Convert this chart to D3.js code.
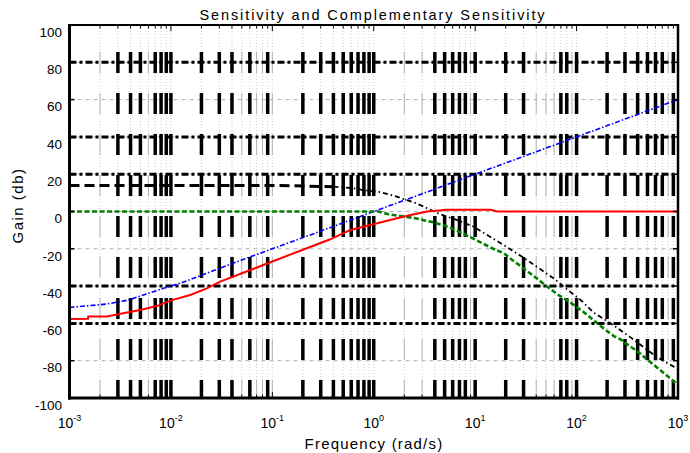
<!DOCTYPE html>
<html><head><meta charset="utf-8">
<script src="https://cdn.jsdelivr.net/npm/d3@7"></script>
<style>
html,body{margin:0;padding:0;background:#fff;overflow:hidden}
svg{display:block;font-family:"Liberation Sans",Arial,Helvetica,sans-serif}
</style></head><body>
<svg id="chart" width="690" height="453"></svg>
<script>
// ---------- data ----------
const titleText = "Sensitivity and Complementary Sensitivity";
const xLabelText = "Frequency (rad/s)";
const yLabelText = "Gain (db)";
const yTickValues = [-100, -80, -60, -40, -20, 0, 20, 40, 60, 80, 100];
const xDecades = [1e-3, 1e-2, 1e-1, 1e0, 1e1, 1e2, 1e3];
const xTickExponents = ["-3", "-2", "-1", "0", "1", "2", "3"];
const blackDashDotLevels = [80, 40, 20, -40, -60];
const heavyGridFreqs = [3e-3, 4e-3, 5e-3, 7e-3, 8e-3, 9e-3, 1e-2,
  2e-2, 3e-2, 4e-2, 6e-2, 9e-2,
  2e-1, 3e-1, 4e-1, 5e-1, 6e-1, 7e-1, 8e-1, 9e-1, 1,
  4, 5, 6, 7, 8, 10,
  20, 30, 70, 80, 100,
  200, 300, 400, 500, 600, 700, 900];

// blue: loop-shape line (freq rad/s, dB)
const blueFreq = [1e-3, 2e-3, 2.33e-3, 3.8e-3, 5.35e-3, 8.43e-3, 1.23e-2, 2e-2, 5e-2, 1e-1, 3e-1, 1, 3, 10, 100, 1000];
const blueDb   = [-51.4, -50, -49.6, -47.5, -44.8, -41.2, -38.5, -34.2, -26, -20, -10.5, 0, 9.5, 20, 40, 60];

// red: sensitivity S
const redFreq = [1e-3, 1.52e-3, 1.53e-3, 2.34e-3, 3.8e-3, 4.97e-3, 7.26e-3, 9.83e-3, 1.55e-2, 2.26e-2, 3.06e-2, 6e-2, 0.1, 0.2, 0.373, 0.588, 0.925, 1.7, 2.3, 3.36, 5.29, 14.2, 16.5, 1000];
const redDb   = [-57.7, -57.5, -56.3, -56.3, -54, -52.8, -50.7, -47.8, -44.8, -41.2, -37.6, -31.5, -26.8, -20.5, -14.9, -9.9, -7.2, -3.6, -1.9, 0, 0.9, 0.9, 0, 0];

// green: complementary sensitivity T
const greenFreq = [1e-3, 1.11, 1.4, 2.58, 3.23, 3.87, 5.09, 6.4, 9.0, 14.7, 19.2, 23.2, 29.1, 64.6, 87.4, 118, 193, 233, 272, 305, 368, 429, 480, 785, 1000];
const greenDb   = [0, 0, -1.5, -3.6, -4.9, -5.8, -7.8, -9.9, -13.8, -19.7, -22.4, -26, -29.9, -44.4, -48.9, -54, -63.5, -66.8, -68.6, -70.7, -73.7, -76.4, -78.7, -88.2, -93];

// black: bound curve
const boundFreq = [1e-3, 0.1, 0.4, 0.63, 0.79, 1.16, 1.63, 2.6, 4.55, 6.64, 9.68, 19.1, 29.1, 59.7, 75, 110, 148, 217, 341, 626, 1000];
const boundDb   = [14, 14, 13.3, 12.5, 11.5, 10.4, 8.2, 4.5, -1.5, -4.6, -8.2, -18, -24.3, -35.9, -40.4, -47.5, -54.3, -60, -67.5, -78.2, -84.5];

// ---------- layout ----------
const plot = {left: 69.5, right: 678, top: 25, bottom: 398};
const svg = d3.select("#chart");
const x = d3.scaleLog().domain([1e-3, 1e3]).range([plot.left, plot.right]);
const y = d3.scaleLinear().domain([-100, 100]).range([plot.bottom, plot.top]);

const minorFreqs = [];
for (let e = -3; e < 3; e++) for (let m = 1; m < 10; m++) minorFreqs.push(m * Math.pow(10, e));
minorFreqs.push(1000);
const isHeavy = f => heavyGridFreqs.some(h => Math.abs(Math.log10(h) - Math.log10(f)) < 1e-6);

const g = svg.append("g");
const barTop = y(100) + 22;           // vertical dash pattern starts below the top frame
const barPattern = "21 20", barOffset = -5;

// dotted light grid at every minor position
g.selectAll("line.dot").data(minorFreqs.filter(f => f > 1e-3 && f < 1e3)).join("line")
  .attr("x1", d => x(d)).attr("x2", d => x(d))
  .attr("y1", y(100)).attr("y2", y(-100))
  .attr("stroke", "#cfcfcf").attr("stroke-width", 1).attr("stroke-dasharray", "1 2");

// thin gray dashed vertical at non-heavy
g.selectAll("line.thin").data(minorFreqs.filter(f => f > 1e-3 && f < 1e3 && !isHeavy(f))).join("line")
  .attr("x1", d => x(d)).attr("x2", d => x(d))
  .attr("y1", barTop).attr("y2", y(-100))
  .attr("stroke", "#b4b4b4").attr("stroke-width", 1)
  .attr("stroke-dasharray", barPattern).attr("stroke-dashoffset", barOffset);

// horizontal gray grid
g.selectAll("line.hgrid").data(yTickValues.filter(v => v > -100 && v < 100)).join("line")
  .attr("x1", plot.left).attr("x2", plot.right)
  .attr("y1", d => y(d)).attr("y2", d => y(d))
  .attr("stroke", "#b0b0b0").attr("stroke-width", 1).attr("stroke-dasharray", "4 4");

// heavy black vertical dashes
g.selectAll("line.heavy").data(heavyGridFreqs).join("line")
  .attr("x1", d => x(d)).attr("x2", d => x(d))
  .attr("y1", barTop).attr("y2", y(-100))
  .attr("stroke", "#000").attr("stroke-width", 3.5)
  .attr("stroke-dasharray", barPattern).attr("stroke-dashoffset", barOffset);

// black dash-dot horizontal levels
g.selectAll("line.lev").data(blackDashDotLevels).join("line")
  .attr("x1", plot.left).attr("x2", plot.right)
  .attr("y1", d => y(d)).attr("y2", d => y(d))
  .attr("stroke", "#000").attr("stroke-width", 3).attr("stroke-dasharray", "7 3 3 3");

// ---------- curves ----------
const line = d3.line().x(d => x(d[0])).y(d => y(d[1]));
const zip = (a, b) => a.map((v, i) => [v, b[i]]);

const bound = zip(boundFreq, boundDb);
g.append("path").attr("d", line(bound.filter(d => d[0] <= 0.4)))
  .attr("fill", "none").attr("stroke", "#000").attr("stroke-width", 3).attr("stroke-dasharray", "10 5");
g.append("path").attr("d", line(bound.filter(d => d[0] >= 0.4)))
  .attr("fill", "none").attr("stroke", "#000").attr("stroke-width", 1.8).attr("stroke-dasharray", "5 3 1.5 3");

g.append("path").attr("d", line(zip(blueFreq, blueDb)))
  .attr("fill", "none").attr("stroke", "#0000ff").attr("stroke-width", 1.6).attr("stroke-dasharray", "5 2 1.5 2");

g.append("path").attr("d", line(zip(greenFreq, greenDb)))
  .attr("fill", "none").attr("stroke", "#008000").attr("stroke-width", 2.6).attr("stroke-dasharray", "5 2.5");

g.append("path").attr("d", line(zip(redFreq, redDb)))
  .attr("fill", "none").attr("stroke", "#ff0000").attr("stroke-width", 2);

// ---------- frame & ticks ----------
const frame = svg.append("g");
frame.append("line").attr("x1", plot.left).attr("x2", plot.right).attr("y1", plot.top).attr("y2", plot.top)
  .attr("stroke", "#000").attr("stroke-width", 2);
frame.append("line").attr("x1", plot.left - 1.5).attr("x2", plot.right + 1).attr("y1", plot.bottom).attr("y2", plot.bottom)
  .attr("stroke", "#000").attr("stroke-width", 3);
frame.append("line").attr("x1", plot.left).attr("x2", plot.left).attr("y1", plot.top - 1).attr("y2", plot.bottom + 1.5)
  .attr("stroke", "#000").attr("stroke-width", 3);
frame.append("line").attr("x1", plot.right).attr("x2", plot.right).attr("y1", plot.top - 1).attr("y2", plot.bottom + 1.5)
  .attr("stroke", "#000").attr("stroke-width", 2.5);

// y ticks (inside on both sides)
frame.selectAll("line.ytl").data(yTickValues).join("line")
  .attr("x1", plot.left).attr("x2", plot.left + 5).attr("y1", d => y(d)).attr("y2", d => y(d))
  .attr("stroke", "#000").attr("stroke-width", 1.5);
frame.selectAll("line.ytr").data(yTickValues).join("line")
  .attr("x1", plot.right - 5).attr("x2", plot.right).attr("y1", d => y(d)).attr("y2", d => y(d))
  .attr("stroke", "#000").attr("stroke-width", 1.5);
// x ticks
frame.selectAll("line.xtb").data(minorFreqs).join("line")
  .attr("x1", d => x(d)).attr("x2", d => x(d))
  .attr("y1", plot.bottom).attr("y2", d => plot.bottom - (xDecades.includes(d) ? 6 : 3.5))
  .attr("stroke", "#000").attr("stroke-width", 1);
frame.selectAll("line.xtt").data(minorFreqs).join("line")
  .attr("x1", d => x(d)).attr("x2", d => x(d))
  .attr("y1", plot.top).attr("y2", d => plot.top + (xDecades.includes(d) ? 6 : 3.5))
  .attr("stroke", "#000").attr("stroke-width", 1);

// ---------- text ----------
svg.append("g").selectAll("text").data(yTickValues).join("text")
  .attr("x", 62).attr("y", d => y(d) + 7).attr("dy", "0.35em")
  .attr("text-anchor", "end").attr("font-size", 13.5).attr("fill", "#000")
  .text(d => String(d));

const xt = svg.append("g").selectAll("text").data(xDecades).join("text")
  .attr("x", d => x(d)).attr("y", 428).attr("text-anchor", "middle")
  .attr("font-size", 14).attr("fill", "#000");
xt.append("tspan").text("10");
xt.append("tspan").attr("dy", -7).attr("font-size", 9).text((d, i) => xTickExponents[i]);

svg.append("text").attr("x", 373).attr("y", 20).attr("text-anchor", "middle")
  .attr("font-size", 14.5).attr("letter-spacing", 1.9).attr("fill", "#000").text(titleText);

svg.append("text").attr("x", 374).attr("y", 449).attr("text-anchor", "middle")
  .attr("font-size", 15).attr("letter-spacing", 1.2).attr("fill", "#000").text(xLabelText);

svg.append("text").attr("transform", "translate(23,205.5) rotate(-90)").attr("text-anchor", "middle")
  .attr("font-size", 15).attr("letter-spacing", 1.5).attr("fill", "#000").text(yLabelText);
</script>
</body></html>
